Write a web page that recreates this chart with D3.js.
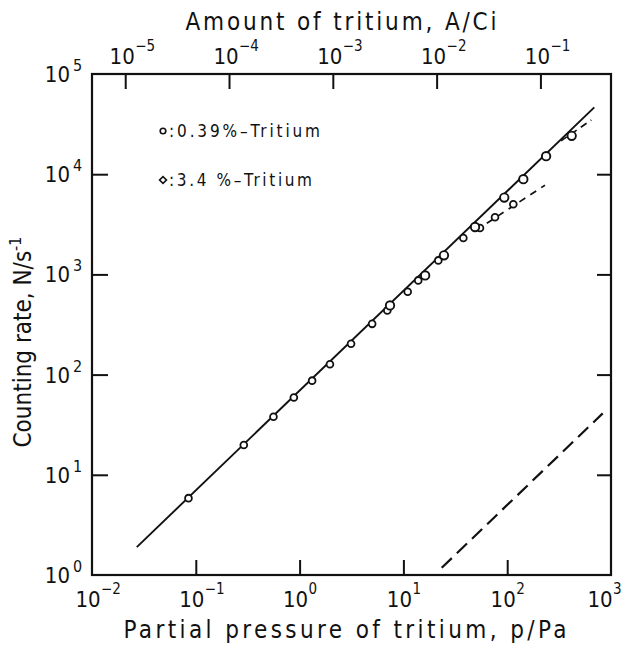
<!DOCTYPE html>
<html>
<head>
<meta charset="utf-8">
<script src="https://cdn.jsdelivr.net/npm/d3@7"></script>
<style>
  body { margin: 0; background: #fff; }
  svg text { font-family: "DejaVu Sans Condensed", "Liberation Sans Narrow", "DejaVu Sans", sans-serif; fill: #111; }
</style>
</head>
<body>
<svg id="chart"></svg>
<script>
// 0.39 % tritium (circles)
var pressure039 = [0.085, 0.29, 0.56, 0.88, 1.32, 1.96, 3.13, 5.0, 7.0, 11.0, 13.9, 21.7, 37.8, 54.7, 76.3, 114.5];
var counts039   = [5.85, 19.8, 38, 59, 87, 127, 203, 321, 437, 671, 871, 1380, 2307, 2904, 3715, 5012];
// 3.4 % tritium (diamonds)
var pressure34 = [7.43, 16.2, 24.6, 49, 93.7, 143, 237, 418];
var counts34   = [490, 977, 1549, 2973, 5848, 8913, 15136, 24155];

// drawn lines, end points
var fitLine    = [[0.027, 1.9], [690, 46400]];
var upperDash  = [[330, 21500], [646, 34700]];
var lowerDash  = [[50, 2750], [231, 7762]];
var bottomDash = [[23.4, 1.18], [832, 41]];

var xTickExp    = [-2, -1, 0, 1, 2, 3];
var yTickExp    = [0, 1, 2, 3, 4, 5];
var topTickExp  = [-5, -4, -3, -2, -1];

var width = 626, height = 647;
var plotLeft = 92, plotRight = 611, plotTop = 74, plotBottom = 575;

var svg = d3.select("#chart")
    .attr("width", width)
    .attr("height", height);

var x = d3.scaleLog().domain([1e-2, 1e3]).range([plotLeft, plotRight]);
var y = d3.scaleLog().domain([1, 1e5]).range([plotBottom, plotTop]);
var xTop = d3.scaleLog().domain([Math.pow(10, -5.32), Math.pow(10, -0.32)]).range([plotLeft, plotRight]);

// inward ticks
function noLabels(axis) { return axis.tickFormat(function() { return ""; }).tickSizeOuter(0); }

var pow = function(e) { return Math.pow(10, e); };

var gb = svg.append("g").attr("transform", "translate(0," + plotBottom + ")")
    .call(noLabels(d3.axisBottom(x).tickValues([-1, 0, 1, 2].map(pow)).tickSize(-15)));
var gt = svg.append("g").attr("transform", "translate(0," + plotTop + ")")
    .call(noLabels(d3.axisTop(xTop).tickValues(topTickExp.map(pow)).tickSize(-15)));
var gl = svg.append("g").attr("transform", "translate(" + plotLeft + ",0)")
    .call(noLabels(d3.axisLeft(y).tickValues([1, 2, 3, 4].map(pow)).tickSize(-16)));
var gr = svg.append("g").attr("transform", "translate(" + plotRight + ",0)")
    .call(noLabels(d3.axisRight(y).tickValues([1, 2, 3, 4].map(pow)).tickSize(-14)));

[gb, gt, gl, gr].forEach(function(g) {
  g.select(".domain").remove();
  g.selectAll(".tick line").attr("stroke", "#111").attr("stroke-width", 2);
});

svg.append("rect")
    .attr("x", plotLeft).attr("y", plotTop)
    .attr("width", plotRight - plotLeft).attr("height", plotBottom - plotTop)
    .attr("fill", "none").attr("stroke", "#111").attr("stroke-width", 2.2);

// tick labels
xTickExp.forEach(function(e) {
  var px = x(pow(e)) - (e == 3 ? 9 : 2);
  svg.append("text").attr("x", px - 2).attr("y", 607)
      .attr("text-anchor", "middle").attr("font-size", 22).text("10");
  svg.append("text").attr("x", px + 11).attr("y", 594)
      .attr("font-size", 15).text(e < 0 ? "\u2212" + (-e) : e);
});

topTickExp.forEach(function(e) {
  var px = xTop(pow(e));
  svg.append("text").attr("x", px - 3).attr("y", 64)
      .attr("text-anchor", "middle").attr("font-size", 22).text("10");
  svg.append("text").attr("x", px + 10).attr("y", 51)
      .attr("font-size", 15).text("\u2212" + (-e));
});

yTickExp.forEach(function(e) {
  var py = y(pow(e));
  svg.append("text").attr("x", 70).attr("y", py + 8)
      .attr("text-anchor", "end").attr("font-size", 22).text("10");
  svg.append("text").attr("x", 73).attr("y", py - 3)
      .attr("font-size", 16).text(e);
});

// titles
svg.append("text").attr("x", 341).attr("y", 30)
    .attr("text-anchor", "middle").attr("font-size", 24)
    .attr("textLength", 311).attr("lengthAdjust", "spacing")
    .text("Amount of tritium, A/Ci");

svg.append("text").attr("x", 345).attr("y", 638)
    .attr("text-anchor", "middle").attr("font-size", 24)
    .attr("textLength", 443).attr("lengthAdjust", "spacing")
    .text("Partial pressure of tritium, p/Pa");

var yt = svg.append("text")
    .attr("transform", "translate(31,342) rotate(-90)")
    .attr("text-anchor", "middle").attr("font-size", 24);
yt.append("tspan").text("Counting rate, N/s");
yt.append("tspan").attr("dy", -10).attr("font-size", 16).text("-1");

// lines
var line = d3.line()
    .x(function(d) { return x(d[0]); })
    .y(function(d) { return y(d[1]); });

svg.append("path").attr("d", line(fitLine))
    .attr("fill", "none").attr("stroke", "#111").attr("stroke-width", 1.9);
svg.append("path").attr("d", line(upperDash))
    .attr("fill", "none").attr("stroke", "#111").attr("stroke-width", 1.7)
    .attr("stroke-dasharray", "7,5");
svg.append("path").attr("d", line(lowerDash))
    .attr("fill", "none").attr("stroke", "#111").attr("stroke-width", 1.7)
    .attr("stroke-dasharray", "7,6");
svg.append("path").attr("d", line(bottomDash))
    .attr("fill", "none").attr("stroke", "#111").attr("stroke-width", 2.2)
    .attr("stroke-dasharray", "14,7");

// markers
var pts039 = pressure039.map(function(p, i) { return [p, counts039[i]]; });
var pts34 = pressure34.map(function(p, i) { return [p, counts34[i]]; });

svg.append("g").selectAll("circle").data(pts039).enter().append("circle")
    .attr("cx", function(d) { return x(d[0]); })
    .attr("cy", function(d) { return y(d[1]); })
    .attr("r", 3.4)
    .attr("fill", "#fff").attr("stroke", "#111").attr("stroke-width", 1.8);

svg.append("g").selectAll("circle").data(pts34).enter().append("circle")
    .attr("cx", function(d) { return x(d[0]); })
    .attr("cy", function(d) { return y(d[1]); })
    .attr("r", 4.2)
    .attr("fill", "#fff").attr("stroke", "#111").attr("stroke-width", 1.9);

// legend
svg.append("circle").attr("cx", 163).attr("cy", 131).attr("r", 2.8)
    .attr("fill", "#fff").attr("stroke", "#111").attr("stroke-width", 1.6);
svg.append("text").attr("x", 169).attr("y", 137).attr("font-size", 17)
    .attr("textLength", 151).attr("lengthAdjust", "spacing")
    .text(":0.39%\u2013Tritium");

svg.append("path")
    .attr("d", d3.symbol().type(d3.symbolSquare).size(24)())
    .attr("transform", "translate(163,180) rotate(45)")
    .attr("fill", "#fff").attr("stroke", "#111").attr("stroke-width", 1.6);
svg.append("text").attr("x", 169).attr("y", 186).attr("font-size", 17)
    .attr("textLength", 143).attr("lengthAdjust", "spacing")
    .text(":3.4 %\u2013Tritium");
</script>
</body>
</html>
